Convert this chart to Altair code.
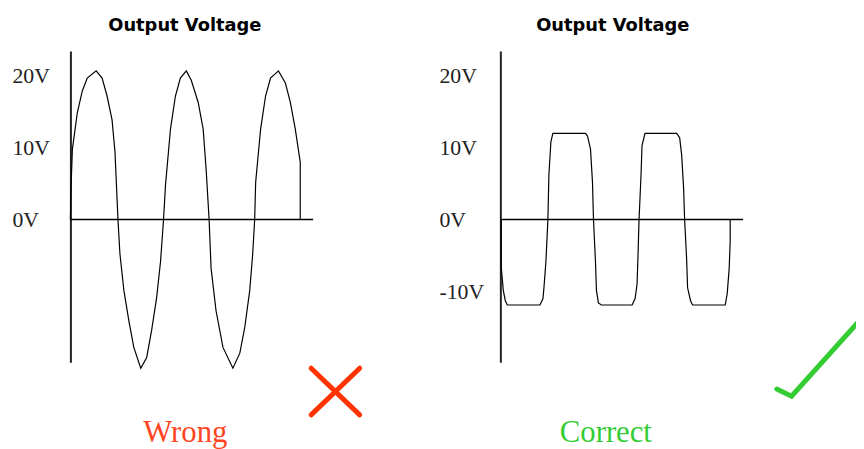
import altair as alt
import pandas as pd

# ---- data ----
left_t = [0, 0.7, 2, 7, 12, 17, 26, 32, 37, 42, 45, 48, 50, 54, 59, 64, 71, 77, 82, 87, 91, 94,
          96, 101, 106, 111, 117, 122, 129, 134, 137, 140, 142, 147, 154, 164, 171, 176, 181, 184,
          186, 187, 192, 197, 202, 210, 217, 222, 227, 232, 232]
left_v = [0, 4.8, 9.8, 14.9, 17.9, 19.7, 20.7, 19.7, 17.2, 13.9, 9.4, 0, -4.8, -9.9, -14.1, -17.8,
          -20.7, -19.2, -15.4, -10.9, -5.8, 0, 4.8, 12.6, 17.2, 19.7, 20.7, 19.4, 16.3, 12.6, 7.0, 0,
          -6.8, -12.7, -17.8, -20.7, -18.6, -15.0, -9.9, -4.8, 0, 5.2, 12.6, 17.2, 19.7, 20.7, 19.0,
          16.3, 12.6, 8.0, 0]

right_t = [1, 1, 3, 5, 7, 40, 43, 44, 46, 48, 49, 51, 53, 86, 88, 91, 93, 94, 96, 97, 99, 102,
           133, 136, 138, 139, 140, 142, 143, 146, 178, 181, 183, 185, 186, 188, 189, 192, 194,
           227, 229, 231, 232, 232]
right_v = [0, -6.8, -9.9, -11.3, -11.9, -11.9, -11.0, -9.5, -5.8, 0, 6.2, 10.8, 12.0, 12.0, 11.6,
           9.8, 5.2, 0, -5.8, -9.9, -11.6, -11.9, -11.9, -11.0, -9.0, -4.8, 0, 6.2, 10.3, 12.0,
           12.0, 11.4, 9.0, 4.3, 0, -5.4, -9.5, -11.3, -11.9, -11.9, -10.3, -6.8, -3.0, 0]

left_ticks = [20, 10, 0]
right_ticks = [20, 10, 0, -10]

cross_t = [243, 292, 243, 292]
cross_v = [-20.7, -27.2, -27.2, -20.7]
cross_seg = [0, 0, 1, 1]

check_t = [279, 294, 365, 383]
check_v = [-23.6, -24.6, -13.7, -11.0]

TITLE = "Output Voltage"
Y_DOMAIN = [-19.86, 23.45]
X_DOMAIN = [0, 245]
W, H = 245, 314


def panel(t, v, ticks, title_dx, label_pad, caption, caption_color, caption_x, deco, deco_color):
    df = pd.DataFrame({"t": t, "v": v, "i": list(range(len(t)))})
    xs = alt.Scale(domain=X_DOMAIN, nice=False, zero=False)
    ys = alt.Scale(domain=Y_DOMAIN, nice=False, zero=False)
    wave = alt.Chart(df).mark_line(color="black", strokeWidth=1.2, interpolate="linear").encode(
        x=alt.X("t:Q", scale=xs, axis=alt.Axis(
            title=caption, labels=False, ticks=False, domain=False, grid=False,
            titleColor=caption_color, titleFont="Liberation Serif", titleFontSize=31,
            titleFontWeight="normal", titleX=caption_x, titleY=80,
            titleBaseline="alphabetic", titleAlign="center")),
        y=alt.Y("v:Q", scale=ys, axis=alt.Axis(
            values=ticks, labelExpr="datum.value + 'V'", title=None, ticks=False,
            tickSize=0, grid=False, labelAlign="left", labelPadding=label_pad,
            labelFont="Liberation Serif", labelFontSize=22, labelColor="#222",
            labelBaseline="middle", domainColor="#222", domainWidth=2)),
        order="i:Q",
    )
    zero = alt.Chart(pd.DataFrame({"z": [0]})).mark_rule(color="black", strokeWidth=1.5).encode(
        y=alt.Y("z:Q", scale=ys))
    deco_chart = alt.Chart(deco).mark_line(color=deco_color, strokeWidth=5, strokeCap="round").encode(
        x=alt.X("t:Q", scale=xs), y=alt.Y("v:Q", scale=ys), detail="seg:N", order="i:Q")
    return alt.layer(zero, wave, deco_chart).properties(
        width=W, height=H,
        title=alt.TitleParams(TITLE, font="DejaVu Sans", fontSize=18, fontWeight="bold",
                              color="black", dx=title_dx, offset=16, anchor="middle"),
    )


cross_df = pd.DataFrame({"t": cross_t, "v": cross_v, "seg": cross_seg, "i": list(range(4))})
check_df = pd.DataFrame({"t": check_t, "v": check_v, "seg": [0] * 4, "i": list(range(4))})

p1 = panel(left_t, left_v, left_ticks, -7, 59, "Wrong", "#ff4422", 115.5, cross_df, "#ff3300")
p2 = panel(right_t, right_v, right_ticks, -9, 62, "Correct", "#33cc33", 106, check_df, "#33cc33")

chart = alt.hconcat(p1, p2, spacing=189, bounds="flush").properties(
    autosize=alt.AutoSizeParams(type="none"),
    padding={"left": 63, "top": 40, "right": 793, "bottom": 393},
).configure_view(stroke=None)

chart.save("out.html", embed_options={"renderer": "svg", "actions": False})
